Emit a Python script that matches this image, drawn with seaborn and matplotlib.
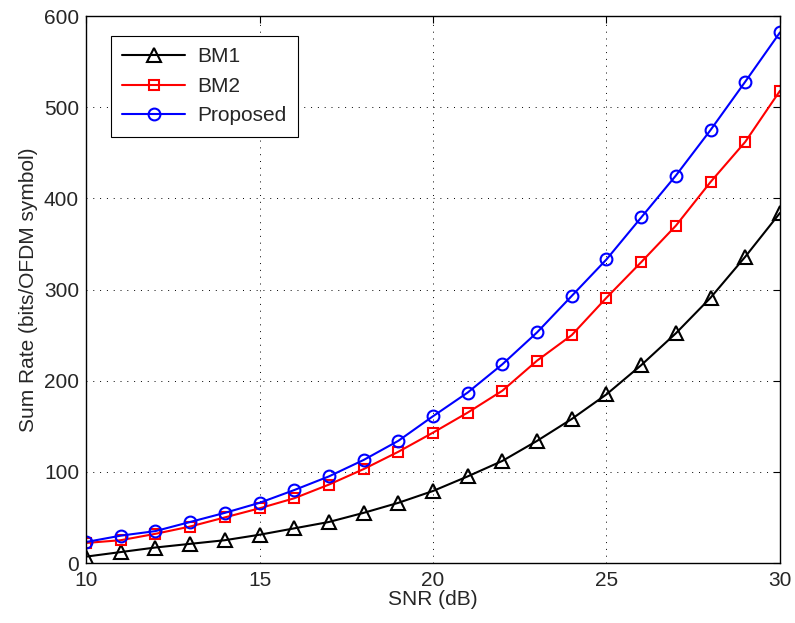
import numpy as np
import pandas as pd
import matplotlib
matplotlib.use("Agg")
import matplotlib.pyplot as plt
import seaborn as sns

snr = list(range(10, 31))
bm1 = [7, 12, 17, 21, 25, 31, 38, 45, 55, 66, 79, 95, 112, 134, 158, 185, 217, 252, 291, 336, 384]
bm2 = [22, 25, 32, 40, 50, 60, 71, 86, 103, 122, 143, 165, 189, 222, 250, 291, 330, 370, 418, 462, 518]
proposed = [23, 30, 35, 45, 55, 66, 80, 95, 113, 134, 161, 187, 218, 253, 293, 333, 379, 425, 475, 528, 582]

names = ["BM1", "BM2", "Proposed"]
colors = ["black", "red", "blue"]
markers = ["^", "s", "o"]
msizes = [10, 6.5, 8.5]


def main():
    sns.set_style("white")
    plt.rcParams["font.family"] = ["Liberation Sans", "DejaVu Sans"]

    fig = plt.figure(figsize=(7.95, 6.23), dpi=100)
    ax = fig.add_axes([0.1082, 0.0963, 0.8729, 0.878])

    for name, vals, c, m, ms in zip(names, [bm1, bm2, proposed], colors, markers, msizes):
        df = pd.DataFrame({"snr": snr, "rate": vals})
        sns.lineplot(data=df, x="snr", y="rate", ax=ax, color=c, marker=m,
                     markersize=ms, markerfacecolor="none", markeredgecolor=c,
                     markeredgewidth=1.5, linewidth=1.5, label=name)

    ax.set_xlim(10, 30)
    ax.set_ylim(0, 600)
    ax.set_xticks(range(10, 31, 5))
    ax.set_yticks(range(0, 601, 100))
    ax.grid(True, linestyle=(0, (1, 6)), color="black", linewidth=0.7)
    ax.tick_params(direction="in", top=True, right=True, length=5, width=0.8,
                   labelsize=15, color="black")
    ax.tick_params(axis="x", pad=6)
    ax.tick_params(axis="y", pad=5)
    for s in ax.spines.values():
        s.set_color("black")
        s.set_linewidth(1.0)

    ax.set_xlabel("SNR (dB)", fontsize=15, labelpad=0)
    ax.set_ylabel("Sum Rate (bits/OFDM symbol)", fontsize=15, labelpad=4)

    leg = ax.legend(loc="upper left", bbox_to_anchor=(0.036, 0.9634), fontsize=15,
                    handlelength=3.0, handletextpad=0.6, fancybox=False,
                    edgecolor="black", framealpha=1, borderpad=0.55,
                    labelspacing=0.5, borderaxespad=0)
    leg.get_frame().set_linewidth(0.8)

    fig.savefig("out.png", dpi=100)


if __name__ == "__main__":
    main()
